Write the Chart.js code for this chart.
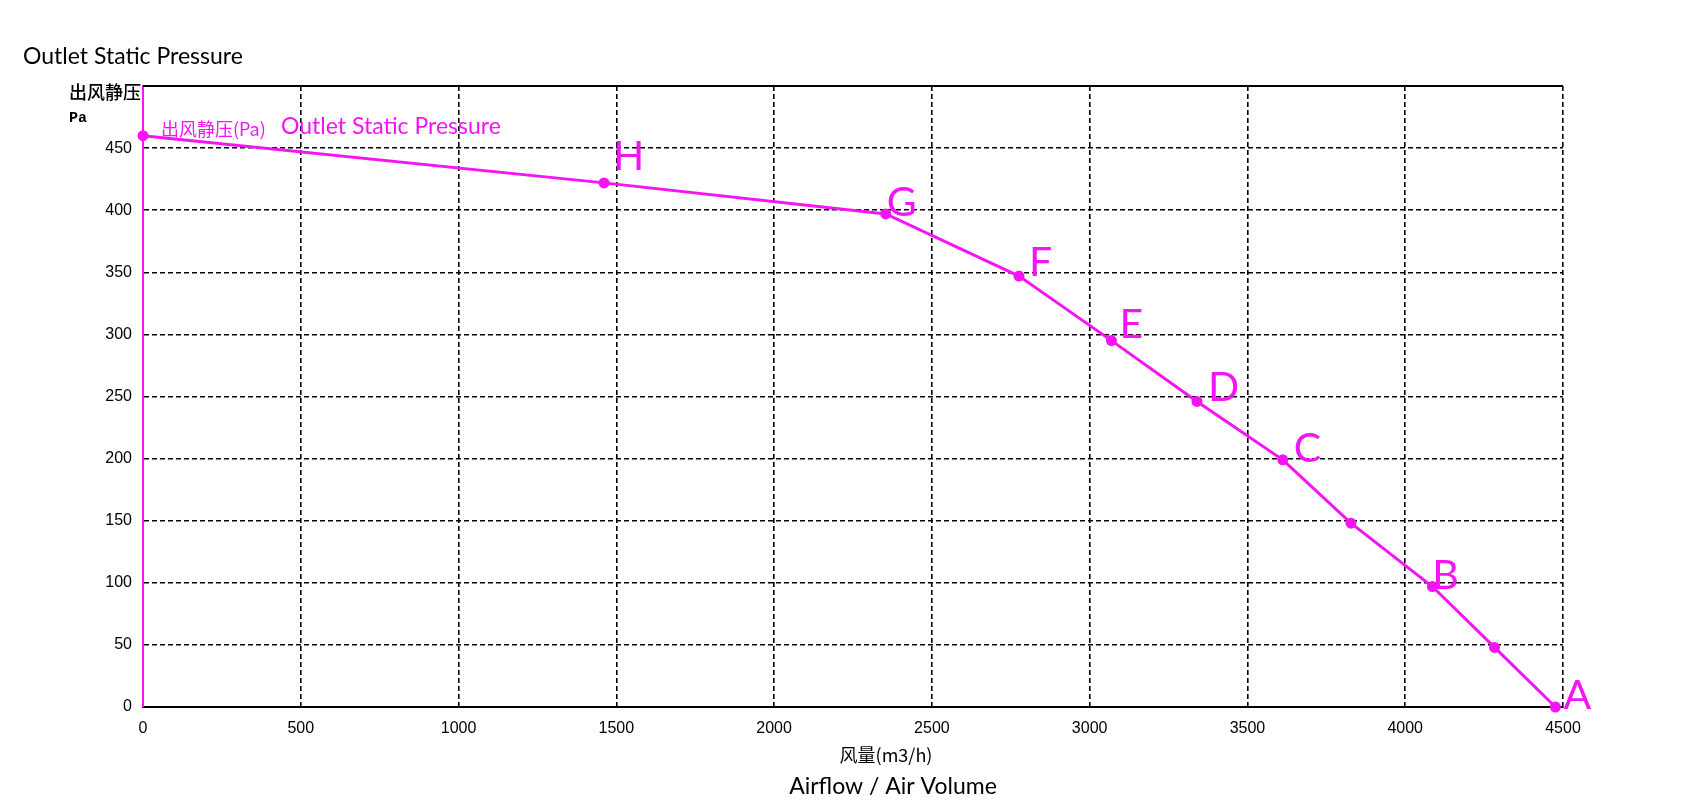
<!DOCTYPE html>
<html>
<head>
<meta charset="utf-8">
<script src="https://cdn.jsdelivr.net/npm/chart.js@4/dist/chart.umd.min.js"></script>
<style>
html,body{margin:0;padding:0;background:#fff;}
#wrap{position:relative;width:1706px;height:803px;}
</style>
</head>
<body>
<div id="wrap"><canvas id="c" width="1706" height="803"></canvas></div>
<script>
// ---- data ----
const airflow  = [0, 1461, 2354, 2776, 3069, 3340, 3612, 3828, 4086, 4283, 4476];
const pressure = [460, 422, 397, 347, 295, 246, 199, 148, 97, 48, 0];
const pointLetters = ['', 'H', 'G', 'F', 'E', 'D', 'C', '', 'B', '', 'A'];
const xTicks = [0, 500, 1000, 1500, 2000, 2500, 3000, 3500, 4000, 4500];
const yTicks = [0, 50, 100, 150, 200, 250, 300, 350, 400, 450];
const seriesName = 'Outlet Static Pressure';
const seriesNameCn = '出风静压(Pa)';
const yTitleEn = 'Outlet Static Pressure';
const yTitleCn = '出风静压';
const yUnit = 'Pa';
const xTitleCn = '风量(m3/h)';
const xTitleEn = 'Airflow / Air Volume';

// ---- style ----
const MAG = '#f414f4';
const letterOffsets = {H:[9,-13],G:[1,2],F:[10,0],E:[8,-3],D:[11,0],C:[11,2],B:[0,2],A:[8,2]};
const latin = '"Lato","Open Sans",sans-serif';
const cjk = '"Noto Sans CJK SC",sans-serif';

const textPlugin = {
  id: 'texts',
  afterDraw(chart) {
    const ctx = chart.ctx;
    const xs = chart.scales.x, ys = chart.scales.y;
    const a = chart.chartArea;
    ctx.save();
    // top border
    ctx.strokeStyle = '#000'; ctx.lineWidth = 2; ctx.setLineDash([]);
    ctx.beginPath(); ctx.moveTo(a.left, a.top); ctx.lineTo(a.right, a.top); ctx.stroke();
    // point letters
    ctx.fillStyle = MAG; ctx.textBaseline = 'alphabetic'; ctx.textAlign = 'left';
    ctx.font = '41px ' + latin;
    pointLetters.forEach((L, i) => {
      if (!L) return;
      const o = letterOffsets[L] || [8, 0];
      ctx.fillText(L, xs.getPixelForValue(airflow[i]) + o[0], ys.getPixelForValue(pressure[i]) + o[1]);
    });
    // legend-like series label inside plot
    ctx.font = '18px ' + cjk;
    ctx.fillText(seriesNameCn, 161, 136);
    ctx.font = '23px ' + latin;
    ctx.fillText(seriesName, 281, 134);
    // y titles
    ctx.fillStyle = '#000';
    ctx.font = '23px ' + latin;
    ctx.fillText(yTitleEn, 23, 64);
    ctx.font = '500 18px ' + cjk;
    ctx.fillText(yTitleCn, 69, 99);
    ctx.font = 'bold 15px "Liberation Mono",monospace';
    ctx.fillText(yUnit, 69, 122);
    // x titles
    ctx.textAlign = 'center';
    ctx.font = '18px ' + cjk;
    ctx.fillText(xTitleCn, 886, 762);
    ctx.font = '23px ' + latin;
    ctx.fillText(xTitleEn, 893, 794);
    ctx.restore();
  }
};

new Chart(document.getElementById('c'), {
  type: 'scatter',
  data: {
    datasets: [{
      label: seriesName,
      data: airflow.map((x, i) => ({x: x, y: pressure[i]})),
      showLine: true,
      borderColor: MAG,
      backgroundColor: MAG,
      borderWidth: 3,
      pointRadius: 4,
      pointHoverRadius: 4,
      tension: 0,
      clip: false
    }]
  },
  options: {
    responsive: false,
    animation: false,
    layout: {padding: {top: 86, right: 143, left: 0, bottom: 0}},
    plugins: {legend: {display: false}, tooltip: {enabled: false}, title: {display: false}},
    scales: {
      x: {
        type: 'linear', min: 0, max: 4500,
        afterBuildTicks: s => { s.ticks = xTicks.map(v => ({value: v})); },
        afterFit: s => { s.height = 96; },
        ticks: {color: '#000', font: {family: '"Liberation Sans",sans-serif', size: 16}, padding: 12, maxRotation: 0,
                callback: v => String(v)},
        grid: {
          drawTicks: false, tickLength: 0, lineWidth: 1.6,
          color: c => (c.tick && c.tick.value === 0) ? 'rgba(0,0,0,0)' : '#000'
        },
        border: {display: true, color: '#000', width: 2, dash: [5, 3]}
      },
      y: {
        type: 'linear', min: 0, max: 500,
        afterBuildTicks: s => { s.ticks = yTicks.map(v => ({value: v})); },
        afterFit: s => { s.width = 143; },
        ticks: {color: '#000', font: {family: '"Liberation Sans",sans-serif', size: 16}, padding: 11,
                callback: v => String(v)},
        grid: {
          drawTicks: false, tickLength: 0, lineWidth: 1.6,
          color: c => (c.tick && c.tick.value === 0) ? 'rgba(0,0,0,0)' : '#000'
        },
        border: {display: true, color: MAG, width: 2, dash: [5, 3]}
      }
    }
  },
  plugins: [textPlugin]
});
</script>
</body>
</html>
